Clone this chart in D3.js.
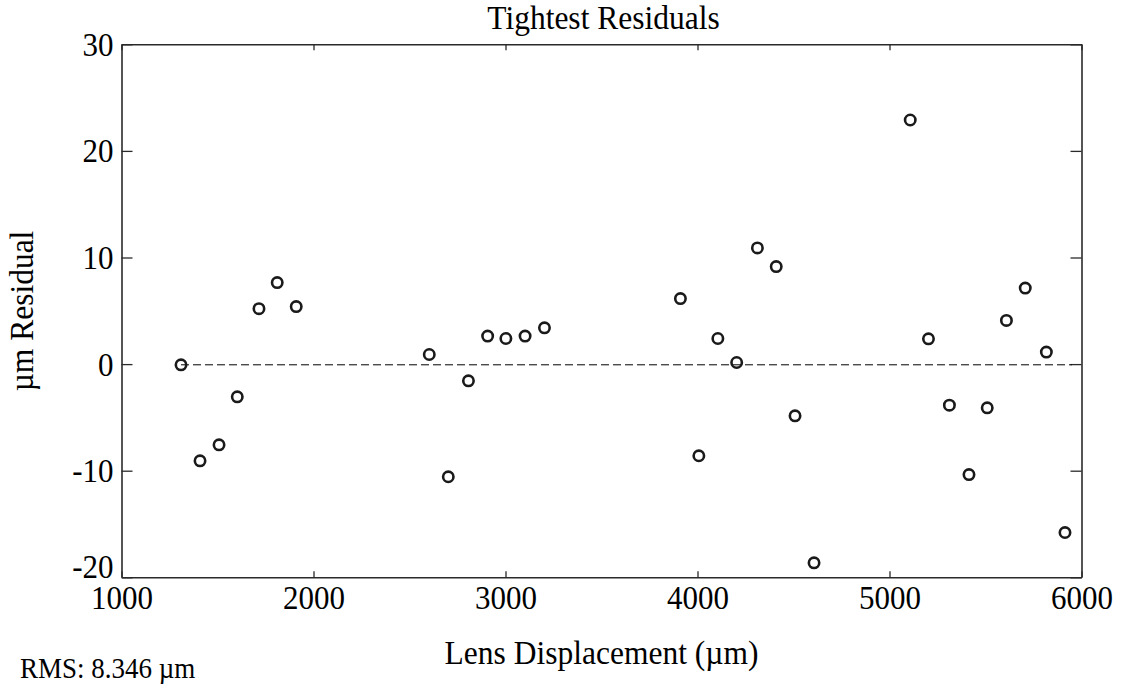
<!DOCTYPE html>
<html>
<head>
<meta charset="utf-8">
<script src="https://cdn.jsdelivr.net/npm/d3@7"></script>
<style>
    body {
        margin: 0;
        background-color: #ffffff;
    }
    svg text {
        font-family: "Liberation Serif", "Times New Roman", serif;
        fill: #000;
    }
    .axis path, .axis line {
        stroke: #2a2a2a;
    }
    .axis text {
        font-size: 31px;
    }
</style>
</head>
<body>
<svg id="svg"></svg>
<script>
// lens displacement (um) and residual (um)
const displacement = [1310, 1409, 1508, 1603, 1716, 1811, 1910, 2603, 2702, 2807,
    2907, 3002, 3102, 3203, 3911, 4007, 4106, 4204, 4312, 4410, 4508, 4607,
    5108, 5203, 5312, 5414, 5509, 5609, 5707, 5817, 5914];
const residual = [-0.07, -9.07, -7.57, -3.07, 5.2, 7.65, 5.4, 0.9, -10.57, -1.57,
    2.63, 2.4, 2.63, 3.4, 6.15, -8.6, 2.4, 0.15, 10.9, 9.15, -4.85, -18.64,
    22.9, 2.37, -3.85, -10.36, -4.1, 4.1, 7.13, 1.13, -15.8];

const xTicks = [1000, 2000, 3000, 4000, 5000, 6000];
const yTicks = [-20, -10, 0, 10, 20, 30];
const xDomain = [1000, 6000];
const yDomain = [-20, 30];
const zeroLineX = [1310, 5950];

const titleText = 'Tightest Residuals';
const xLabelText = 'Lens Displacement (\u00b5m)';
const yLabelText = '\u00b5m Residual';
const rmsText = 'RMS: 8.346 \u00b5m';

const width = 1122, height = 689;
const margin = {top: 44.3, left: 121.5, right: 40.5, bottom: 111.7};
const innerW = width - margin.left - margin.right;
const innerH = height - margin.top - margin.bottom;
// the reference text is drawn a little taller than it is wide
const stretch = 1.1;

const svg = d3.select('#svg')
    .attr('width', width)
    .attr('height', height);

const g = svg.append('g')
    .attr('transform', 'translate(' + margin.left + ',' + margin.top + ')');

const x = d3.scaleLinear().domain(xDomain).range([0, innerW]);
const y = d3.scaleLinear().domain(yDomain).range([innerH, 0]);

// box ticks point inward on all four sides
g.append('g')
    .attr('class', 'axis')
    .attr('transform', 'translate(0,' + innerH + ')')
    .call(d3.axisBottom(x).tickValues(xTicks).tickFormat(d => String(d))
        .tickSizeInner(-6).tickSizeOuter(0))
    .call(a => a.selectAll('text')
        .attr('y', 32 / stretch)
        .attr('dy', null)
        .attr('transform', 'scale(1,' + stretch + ')'));

g.append('g')
    .attr('class', 'axis')
    .call(d3.axisTop(x).tickValues(xTicks).tickFormat('')
        .tickSizeInner(-6).tickSizeOuter(0));

g.append('g')
    .attr('class', 'axis')
    .call(d3.axisLeft(y).tickValues(yTicks).tickFormat(d => String(d))
        .tickSizeInner(-11).tickSizeOuter(0).tickPadding(8))
    // bottom label sits raised so it clears the 1000 below it
    .call(a => a.selectAll('text')
        .attr('y', d => (d === yDomain[0] ? 0 : 11) / stretch)
        .attr('dy', null)
        .attr('transform', 'scale(1,' + stretch + ')'));

g.append('g')
    .attr('class', 'axis')
    .attr('transform', 'translate(' + innerW + ',0)')
    .call(d3.axisRight(y).tickValues(yTicks).tickFormat('')
        .tickSizeInner(-11).tickSizeOuter(0));

g.selectAll('.axis path')
    .attr('stroke-width', 1.6);
g.selectAll('.axis line')
    .attr('stroke-width', 1.3);

// dashed zero reference
g.append('line')
    .attr('x1', x(zeroLineX[0]))
    .attr('x2', x(zeroLineX[1]))
    .attr('y1', Math.round(y(0)) + 0.5)
    .attr('y2', Math.round(y(0)) + 0.5)
    .attr('stroke', '#000')
    .attr('stroke-width', 1)
    .attr('stroke-dasharray', '8,4');

const points = displacement.map((d, i) => ({x: d, y: residual[i]}));

g.append('g')
    .selectAll('circle')
    .data(points)
    .enter()
    .append('circle')
    .attr('cx', d => x(d.x))
    .attr('cy', d => y(d.y))
    .attr('r', 5.2)
    .attr('fill', 'none')
    .attr('stroke', '#1a1a1a')
    .attr('stroke-width', 2.6);

// texts
function addText(tx, ty, size, str, anchor, rotate) {
    svg.append('text')
        .attr('transform', 'translate(' + tx + ',' + ty + ')' +
            (rotate ? ' rotate(' + rotate + ')' : '') +
            ' scale(1,' + stretch + ')')
        .attr('text-anchor', anchor)
        .style('font-size', size + 'px')
        .text(str);
}

addText(margin.left + innerW / 2 + 2, 29, 31.5, titleText, 'middle');
addText(margin.left + innerW / 2, 664, 31.5, xLabelText, 'middle');
addText(33, 311, 31.5, yLabelText, 'middle', -90);
addText(20, 678, 27, rmsText, 'start');
</script>
</body>
</html>
